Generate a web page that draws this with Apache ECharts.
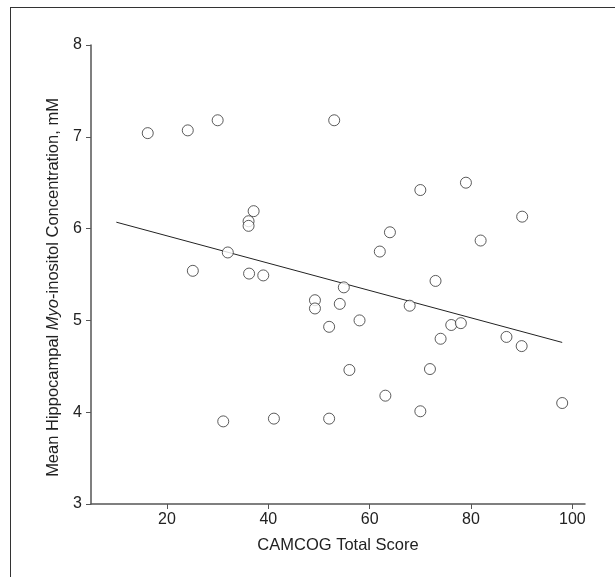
<!DOCTYPE html>
<html>
<head>
<meta charset="utf-8">
<script src="https://cdn.jsdelivr.net/npm/echarts@6/dist/echarts.min.js"></script>
<style>
  html, body { margin: 0; padding: 0; background: #fff; }
  #chart { position: absolute; left: 0; top: 0; width: 615px; height: 577px; }
  /* outer frame, only top and left edges are inside the crop */
  #frame {
    position: absolute; left: 10px; top: 7px; width: 620px; height: 580px;
    border-top: 1.5px solid #333; border-left: 1.5px solid #333;
    pointer-events: none;
  }
</style>
</head>
<body>
<div id="chart"></div>
<div id="frame"></div>
<script>
// CAMCOG total score vs. myo-inositol (mM)
const camcog = [
  16.2, 24.1, 30.0, 53.0, 37.1, 36.1, 36.1, 32.0, 25.1, 36.2,
  39.0, 49.2, 49.2, 54.1, 54.9, 52.0, 58.0, 70.0, 79.0, 90.1,
  64.0, 62.0, 81.9, 73.0, 67.9, 76.1, 78.0, 74.0, 87.0, 90.0,
  56.0, 71.9, 63.1, 70.0, 98.0, 52.0, 31.1, 41.1
]
const myoIns = [
  7.04, 7.07, 7.18, 7.18, 6.19, 6.08, 6.03, 5.74, 5.54, 5.51,
  5.49, 5.22, 5.13, 5.18, 5.36, 4.93, 5.00, 6.42, 6.50, 6.13,
  5.96, 5.75, 5.87, 5.43, 5.16, 4.95, 4.97, 4.80, 4.82, 4.72,
  4.46, 4.47, 4.18, 4.01, 4.10, 3.93, 3.90, 3.93
]

// fitted line end points
const fitX = [10, 98]
const fitY = [6.07, 4.76]

const xTicks = [20, 40, 60, 80, 100]

const font = '"Liberation Sans", Arial, sans-serif'

const chart = echarts.init(document.getElementById('chart'))

const axisCommon = {
  axisLine: { show: true, lineStyle: { color: '#555', width: 1.5 } },
  axisTick: { show: true, length: 5, lineStyle: { color: '#555', width: 1 } },
  axisLabel: { color: '#222', fontSize: 16, fontFamily: font, margin: 9 },
  splitLine: { show: false },
  nameTextStyle: { color: '#222', fontSize: 16.5, fontFamily: font }
}

chart.setOption({
  animation: false,
  grid: { left: 91, right: 30, top: 45, bottom: 73 },
  xAxis: {
    ...axisCommon,
    type: 'value',
    min: 5,
    max: 102.5,
    axisTick: { ...axisCommon.axisTick, customValues: xTicks },
    axisLabel: { ...axisCommon.axisLabel, margin: 8, customValues: xTicks },
    name: 'CAMCOG Total Score',
    nameLocation: 'middle',
    nameGap: 33
  },
  yAxis: {
    ...axisCommon,
    type: 'value',
    min: 3,
    max: 8,
    interval: 1,
    name: 'Mean Hippocampal {i|Myo}-inositol Concentration, mM',
    nameLocation: 'middle',
    nameGap: 26,
    nameTextStyle: {
      ...axisCommon.nameTextStyle,
      // title sits a little below the axis middle in the original
      padding: [0, 26, 0, 0],
      rich: {
        i: { fontStyle: 'italic', fontSize: 16.5, fontFamily: font, color: '#222' }
      }
    }
  },
  series: [
    {
      type: 'scatter',
      data: camcog.map((x, i) => [x, myoIns[i]]),
      symbol: 'circle',
      symbolSize: 11,
      itemStyle: { color: '#fff', borderColor: '#333', borderWidth: 1 },
      z: 3
    },
    {
      type: 'line',
      data: fitX.map((x, i) => [x, fitY[i]]),
      showSymbol: false,
      lineStyle: { color: '#222', width: 1 },
      z: 2
    }
  ]
})
</script>
</body>
</html>
